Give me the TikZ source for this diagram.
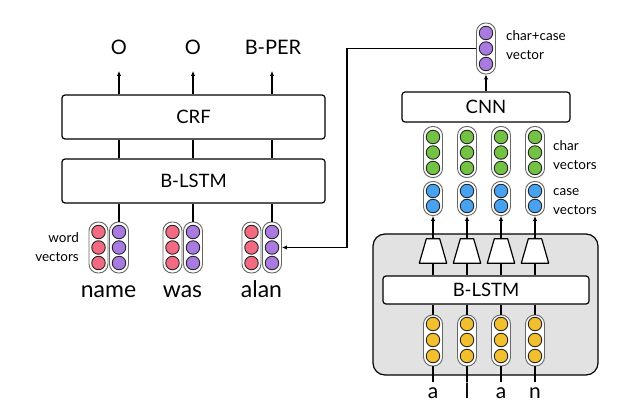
\documentclass[tikz,border=0pt]{standalone}
\usepackage{fontspec}
\setmainfont{Lato}
\usetikzlibrary{arrows.meta}
\definecolor{cred}{HTML}{F26B80}
\definecolor{cpurple}{HTML}{A97BE0}
\definecolor{cgreen}{HTML}{74C243}
\definecolor{cblue}{HTML}{47A2F2}
\definecolor{cyellow}{HTML}{F2BF2F}
\definecolor{cgray}{HTML}{E2E2E2}
\definecolor{pillline}{HTML}{666666}
\tikzset{
  layerbox/.style={draw=black, line width=1.2pt, rounded corners=3pt, fill=white, inner sep=0pt},
  pill/.style={draw=pillline, line width=0.9pt, rounded corners=9pt, fill=white, minimum width=19pt, minimum height=51pt, inner sep=0pt},
  dot/.style={circle, draw=black!85, line width=0.9pt, minimum size=13.5pt, inner sep=0pt},
  conn/.style={line width=1.2pt, black},
  arr/.style={line width=1.2pt, black, -{Latex[length=5pt,width=4.5pt]}},
  txt/.style={inner sep=0pt, font=\fontsize{20}{24}\selectfont},
  small/.style={inner sep=0pt, font=\fontsize{13.5}{19}\selectfont, align=left},
  trapframe/.style={rectangle, minimum width=27pt, minimum height=24pt, inner sep=0pt},
  trapline/.style={draw=black, line width=1.2pt, fill=white, line join=round},
}
\begin{document}
\begin{tikzpicture}[x=1pt,y=-1pt]
\useasboundingbox (0,0) rectangle (640,420);

% ---------------- left part ----------------
\node[layerbox, minimum width=263pt, minimum height=44pt, font=\fontsize{18.5}{22}\selectfont] (crf) at (193.5,117) {CRF};
\node[layerbox, minimum width=263pt, minimum height=44pt, font=\fontsize{18.5}{22}\selectfont] (blstm) at (193.5,181) {B-LSTM};

\node[txt] (o1) at (119,47) {O};
\node[txt] (o2) at (193,47) {O};
\node[txt] (o3) at (273,47) {B-PER};
\coordinate (tipy) at (0,71);

% word vectors
\foreach \n/\xr/\xp in {1/98.5/119, 2/172.5/193, 3/251.5/272}{
  \node[pill] (r\n) at (\xr,247.5) {};
  \node[pill] (p\n) at (\xp,247.5) {};
  \foreach \k/\yy in {a/232,b/247.5,c/263}{
    \node[dot, fill=cred] (r\n\k) at (\xr,\yy) {};
    \node[dot, fill=cpurple] (p\n\k) at (\xp,\yy) {};
  }
}
\foreach \n in {1,2,3}{
  \draw[arr] (crf.north -| p\n) -- (tipy -| p\n);
  \draw[conn] (blstm.north -| p\n) -- (crf.south -| p\n);
  \draw[conn] (blstm.south -| p\n) -- (p\n.north);
}

\node[small, anchor=east, align=right] (wv) at (79,247.5) {word\\vectors};

\node[inner sep=0pt, anchor=base, font=\fontsize{23}{27}\selectfont] (w1) at (108.5,297) {name};
\node[inner sep=0pt, anchor=base, font=\fontsize{23}{27}\selectfont] (w2) at (182.5,297) {was};
\node[inner sep=0pt, anchor=base, font=\fontsize{23}{27}\selectfont] (w3) at (261.5,297) {alan};

% ---------------- right part ----------------
\node[draw=black, line width=1.2pt, rounded corners=12pt, fill=cgray, minimum width=225pt, minimum height=141pt, inner sep=0pt] (gbox) at (485.5,304.5) {};

\node[pill] (cc) at (486,48.5) {};
\foreach \k/\yy in {a/33,b/48.5,c/64}{
  \node[dot, fill=cpurple] (cc\k) at (486,\yy) {};
}
\node[small, anchor=west] (cclab) at (506,45.5) {char+case\\vector};

\node[layerbox, minimum width=168pt, minimum height=30pt, font=\fontsize{18.5}{22}\selectfont] (cnn) at (486,107) {CNN};
\draw[arr] (cnn.north -| cc) -- (cc.south);

\coordinate (vx) at (347,0);
\draw[arr] (cc.west) -- (cc.west -| vx) |- (p3.east);

\node[layerbox, minimum width=206pt, minimum height=28pt, font=\fontsize{18.5}{22}\selectfont] (lstm2) at (486,290) {B-LSTM};
\coordinate (lety) at (0,382);

\foreach \n/\x/\ch in {1/433/a, 2/467/l, 3/501/a, 4/535/n}{
  % green
  \node[pill] (g\n) at (\x,152) {};
  \foreach \k/\yy in {a/137,b/152.5,c/168}{
    \node[dot, fill=cgreen] (g\n\k) at (\x,\yy) {};
  }
  % blue
  \node[pill, minimum height=34pt] (b\n) at (\x,198.5) {};
  \foreach \k/\yy in {a/191,b/206}{
    \node[dot, fill=cblue] (b\n\k) at (\x,\yy) {};
  }
  % trapezoid
  \node[trapframe] (t\n) at (\x,251) {};
  \draw[trapline] (t\n.south west) -- (t\n.south east) -- ([xshift=-7pt]t\n.north east) -- ([xshift=7pt]t\n.north west) -- cycle;
  \draw[arr] (t\n.north) -- (b\n.south);
  \draw[conn] (t\n.south) -- (lstm2.north -| t\n);
  % yellow
  \node[pill] (y\n) at (\x,340.5) {};
  \foreach \k/\yy in {a/324,b/340,c/356}{
    \node[dot, fill=cyellow] (y\n\k) at (\x,\yy) {};
  }
  \draw[conn] (lstm2.south -| y\n) -- (y\n.north);
  \draw[conn] (y\n.south) -- (lety -| y\n);
  \node[inner sep=0pt, anchor=base, font=\fontsize{21}{25}\selectfont] (ch\n) at (\x,398) {\ch};
}

\node[small, anchor=west] (charlab) at (553,155) {char\\vectors};
\node[small, anchor=west] (caselab) at (553,201.5) {case\\vectors};
\end{tikzpicture}
\end{document}
